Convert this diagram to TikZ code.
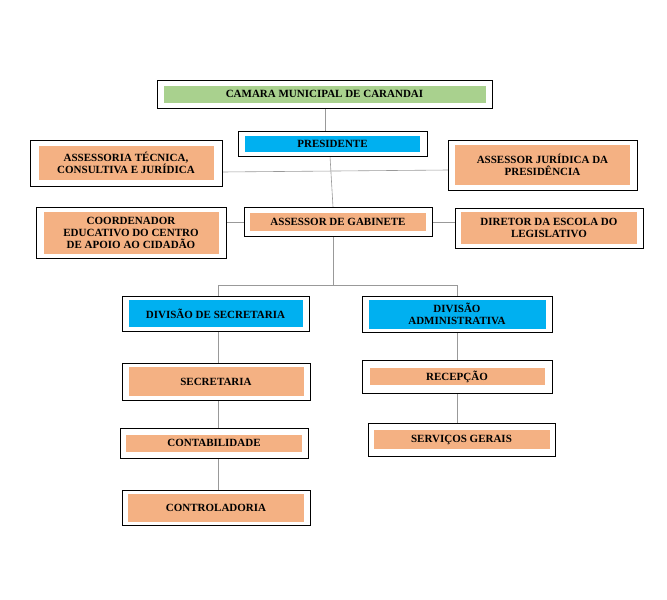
\documentclass[tikz,border=0pt]{standalone}
\usepackage{fontspec}
\setmainfont{Liberation Serif}
\definecolor{verde}{HTML}{A9D18E}
\definecolor{azul}{HTML}{00B0F0}
\definecolor{salmao}{HTML}{F4B183}
\tikzset{
  caixa/.style={draw=black, line width=0.8pt, fill=white, inner sep=0pt},
  miolo/.style={fill=#1, inner sep=0pt, align=center, font=\bfseries\fontsize{11}{12}\selectfont},
  liga/.style={draw=gray!80, line width=0.6pt}
}
\newcommand{\caixa}[8]{%
  \node[caixa, minimum width=#3pt, minimum height=#4pt] (#1) at (#2) {};
  \node[miolo=#5, minimum width=#6pt, minimum height=#7pt] (#1m) at (#1) {#8};
}
\begin{document}
\begin{tikzpicture}[x=1pt,y=-1pt]
\useasboundingbox (0,0) rectangle (667,600);
% linhas
\draw[liga] (325,108) -- (325,131);
\draw[liga] (330,156) -- (333,207);
\draw[liga] (222,172) -- (448,170);
\draw[liga] (226,222) -- (244,222);
\draw[liga] (432,222) -- (455,222);
\draw[liga] (333,236) -- (333,285);
\draw[liga] (218,296) -- (218,285) -- (457,285) -- (457,296);
\draw[liga] (218,331) -- (218,363);
\draw[liga] (218,400) -- (218,428);
\draw[liga] (218,458) -- (218,490);
\draw[liga] (457,332) -- (457,360);
\draw[liga] (457,393) -- (457,423);
% caixas
\caixa{cam}{324.5,94}{335}{28}{verde}{322}{17}{CAMARA MUNICIPAL DE CARANDAI}
\caixa{pres}{332.5,143.5}{189}{25}{azul}{175}{16}{PRESIDENTE}
\caixa{tec}{126,163}{192}{46}{salmao}{175}{34}{ASSESSORIA TÉCNICA,\\CONSULTIVA E JURÍDICA}
\caixa{jur}{542.5,165}{189}{50}{salmao}{175}{40}{ASSESSOR JURÍDICA DA\\PRESIDÊNCIA}
\caixa{coord}{131,232.5}{190}{51}{salmao}{175}{42}{COORDENADOR\\EDUCATIVO DO CENTRO\\DE APOIO AO CIDADÃO}
\caixa{gab}{338,221.5}{188}{29}{salmao}{176}{18}{ASSESSOR DE GABINETE}
\caixa{esc}{549,228}{188}{40}{salmao}{176}{32}{DIRETOR DA ESCOLA DO\\LEGISLATIVO}
\caixa{dsec}{215.5,313.5}{187}{35}{azul}{174}{27}{DIVISÃO DE SECRETARIA}
\caixa{dadm}{457,314}{190}{36}{azul}{177}{29}{DIVISÃO\\ADMINISTRATIVA}
\caixa{sec}{216,381.5}{188}{37}{salmao}{175}{29}{SECRETARIA}
\caixa{rec}{457,376.5}{190}{33}{salmao}{175}{17}{RECEPÇÃO}
\caixa{cont}{214,443}{188}{30}{salmao}{176}{17}{CONTABILIDADE}
\caixa{serv}{461.5,439.5}{187}{33}{salmao}{176}{19}{SERVIÇOS GERAIS}
\caixa{ctrl}{216,507.5}{188}{35}{salmao}{176}{28}{CONTROLADORIA}
\end{tikzpicture}
\end{document}
